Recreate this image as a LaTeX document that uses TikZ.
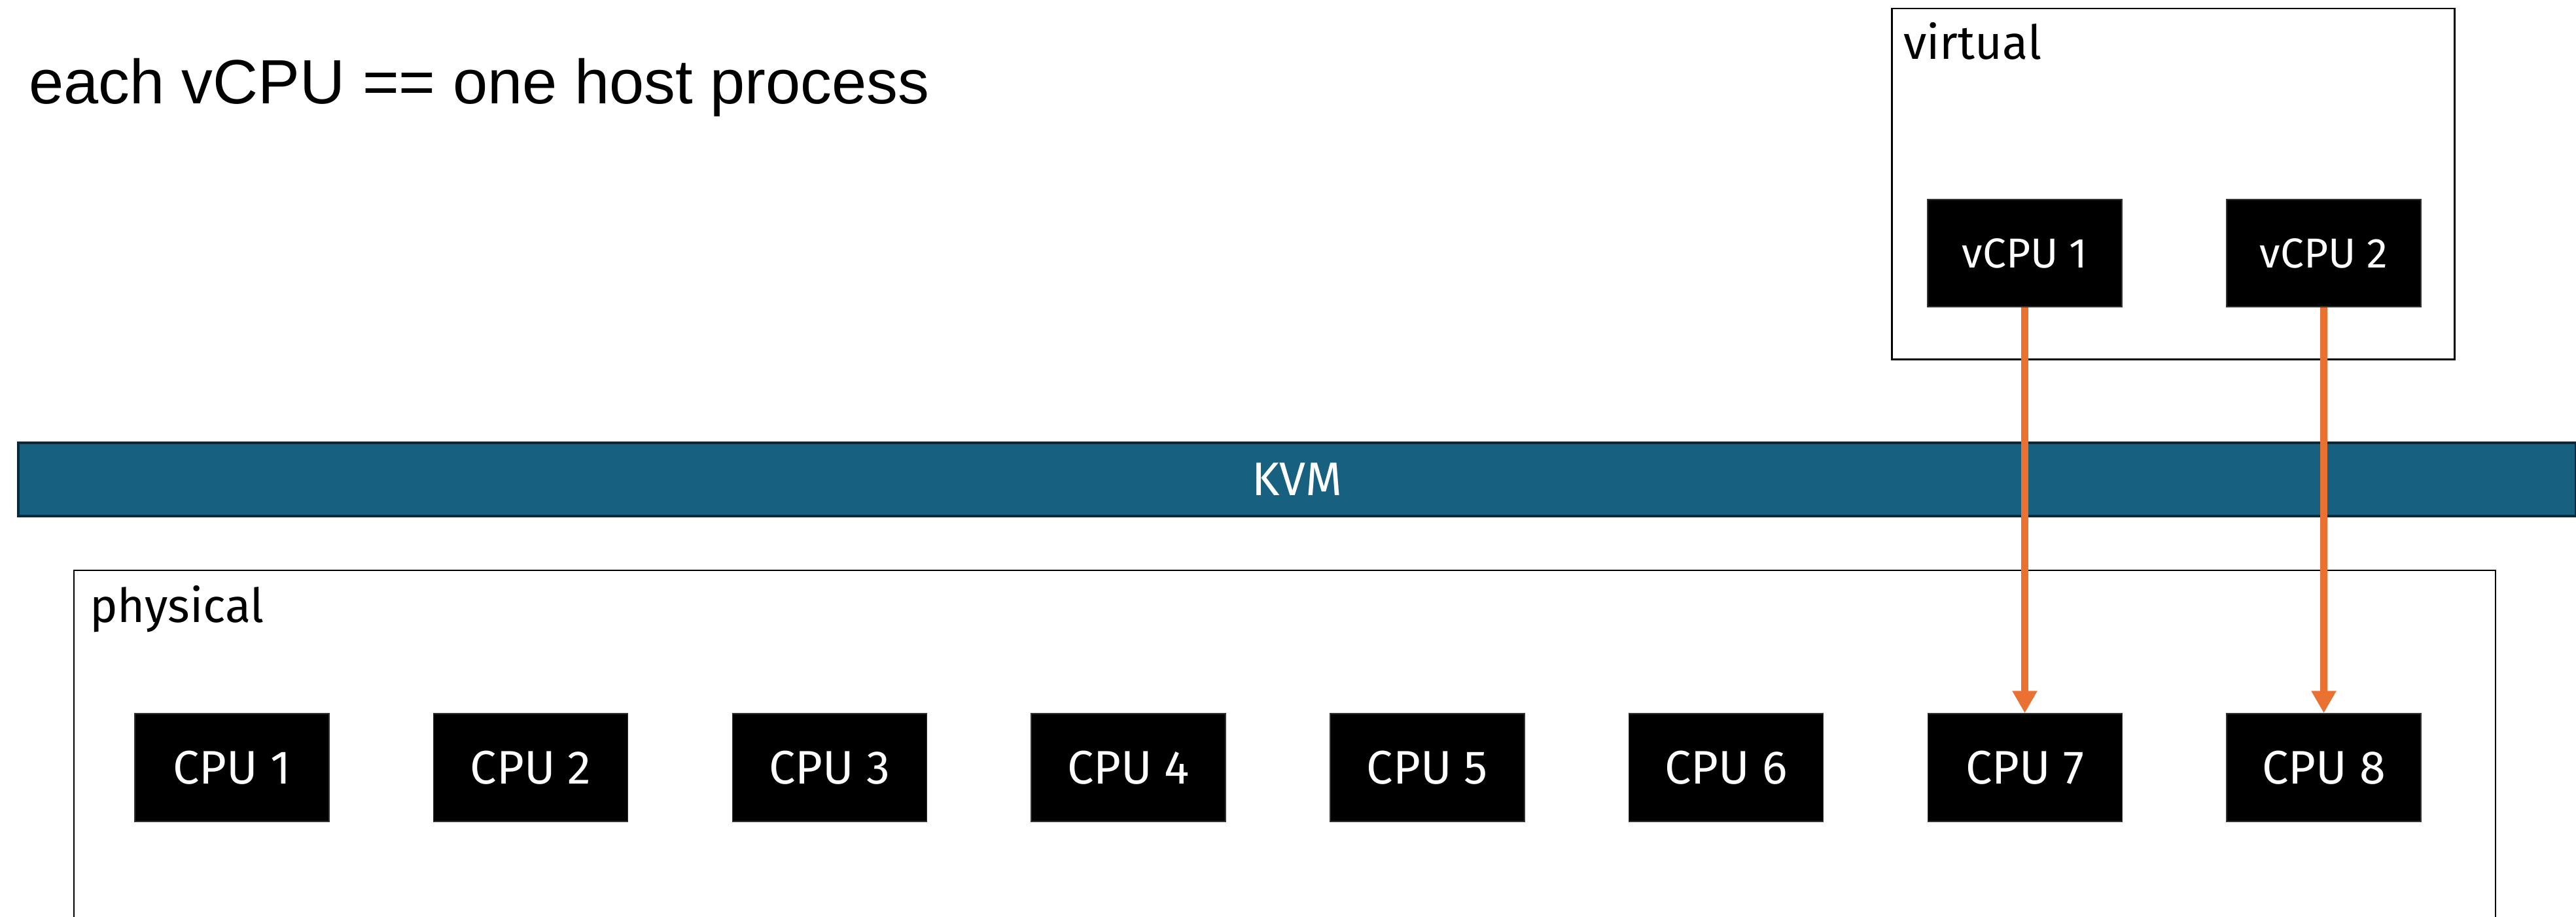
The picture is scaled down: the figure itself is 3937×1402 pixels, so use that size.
\documentclass[tikz,border=0pt]{standalone}
\usepackage{fontspec}
\setmainfont{Liberation Sans}
\newfontfamily\lblfont{Fira Sans}
\usetikzlibrary{arrows.meta}
\definecolor{kvmfill}{HTML}{17607F}
\definecolor{kvmline}{HTML}{0B2838}
\definecolor{maporange}{HTML}{EB7133}
\begin{document}
\begin{tikzpicture}[x=1pt,y=-1pt,
  cpubox/.style={draw=black!80, fill=black, line width=1.5pt, minimum width=297pt, minimum height=165pt, inner sep=0pt, text=white, font=\lblfont\fontsize{72}{80}\selectfont},
  vcpubox/.style={cpubox, minimum height=164pt, font=\lblfont\fontsize{64}{70}\selectfont},
  frame/.style={draw=black, line width=2.5pt, inner sep=0pt},
  lbl/.style={anchor=base west, inner sep=0pt, font=\lblfont\fontsize{72}{80}\selectfont},
  maparrow/.style={draw=maporange, line width=11pt, -{Triangle[length=34pt,width=36pt]}}
]
\useasboundingbox (0,0) rectangle (3937,1402);
\node[anchor=base west, inner sep=0pt, font=\fontsize{95.6}{110}\selectfont] (title) at (44,158) {each vCPU == one host process};
% virtual frame
\node[frame, minimum width=860pt, minimum height=536pt, anchor=north west] (virtualbox) at (2890,12) {};
\node[lbl] (virtual) at (2909,91) {virtual};
% KVM bar
\node[draw=kvmline, fill=kvmfill, line width=4pt, minimum width=3909pt, minimum height=112pt, inner sep=0pt, anchor=north west, text=white, font=\lblfont\fontsize{72}{80}\selectfont] (kvm) at (26,675) {KVM};
% physical frame (open at bottom)
\coordinate (pbl) at (113,1420);
\coordinate (ptl) at (113,872);
\coordinate (ptr) at (3814,872);
\coordinate (pbr) at (3814,1420);
\draw[draw=black, line width=2.5pt] (pbl) -- (ptl) -- (ptr) -- (pbr);
\node[lbl] (physical) at (137,951) {physical};
% CPUs
\foreach \i in {1,...,8} {
  \node[cpubox] (cpu\i) at ({354.5+456.714*(\i-1)},1173.5) {CPU \i};
}
% vCPUs
\node[vcpubox] (vcpu1) at (3094.5,387) {vCPU 1};
\node[vcpubox] (vcpu2) at (3551.5,387) {vCPU 2};
% mapping arrows
\draw[maparrow] (vcpu1.south) -- (vcpu1.south |- cpu7.north);
\draw[maparrow] (vcpu2.south) -- (vcpu2.south |- cpu8.north);
\end{tikzpicture}
\end{document}
